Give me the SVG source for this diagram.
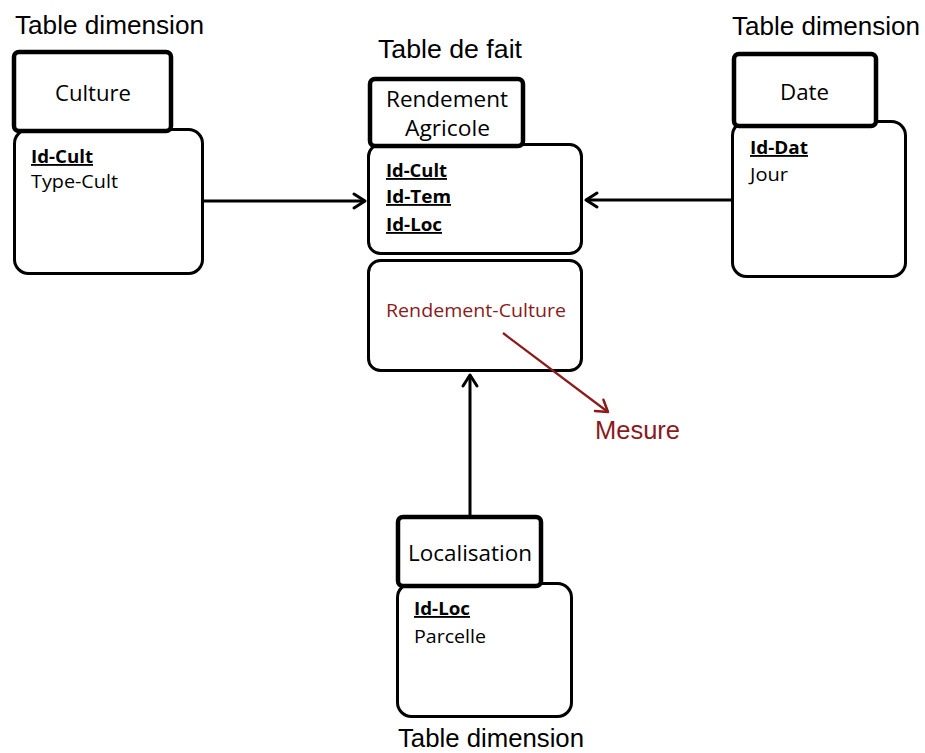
<svg xmlns="http://www.w3.org/2000/svg" width="925" height="753" viewBox="0 0 925 753">
<style>
.hdr{fill:#fff;stroke:#000;stroke-width:4.5}
.body{fill:#fff;stroke:#000;stroke-width:3}
.cap{font-family:"Liberation Sans",Arial,sans-serif;font-size:26px;fill:#000}
.tt{font-family:"Open Sans","Noto Sans",sans-serif;font-size:22.5px;fill:#000}
.t2{font-size:21px}
.at{font-family:"Open Sans","Noto Sans",sans-serif;font-size:18.5px;fill:#000}
.key{font-weight:bold;text-decoration:underline}
.red{fill:#8c1a1a}
.conn{stroke:#000;stroke-width:3;fill:none}
</style>
<defs>
<marker id="ah" markerUnits="userSpaceOnUse" markerWidth="30" markerHeight="30" refX="0" refY="0" orient="auto" overflow="visible">
<path d="M-11,-7 L0,0 L-11,7" fill="none" stroke="#000" stroke-width="3" stroke-linejoin="round" stroke-linecap="round"/>
</marker>
<marker id="ahr" markerUnits="userSpaceOnUse" markerWidth="30" markerHeight="30" refX="0" refY="0" orient="auto" overflow="visible">
<path d="M-11,-7 L0,0 L-11,7" fill="none" stroke="#8c1a1a" stroke-width="2.5" stroke-linejoin="round" stroke-linecap="round"/>
</marker>
</defs>

<g id="culture">
<text class="cap" x="15" y="34" textLength="189" lengthAdjust="spacingAndGlyphs">Table dimension</text>
<rect class="body" x="14.5" y="129.5" width="188" height="144" rx="14"/>
<rect class="hdr" x="14" y="52" width="157" height="79" rx="5"/>
<text class="tt" x="55" y="101" textLength="76" lengthAdjust="spacingAndGlyphs">Culture</text>
<text class="at key" x="31" y="163" textLength="62" lengthAdjust="spacingAndGlyphs">Id-Cult</text>
<text class="at" x="31" y="188" textLength="87" lengthAdjust="spacingAndGlyphs">Type-Cult</text>
</g>

<g id="fait">
<text class="cap" x="378" y="58" textLength="144" lengthAdjust="spacingAndGlyphs">Table de fait</text>
<rect class="body" x="368.5" y="144.5" width="213" height="109" rx="12"/>
<rect class="hdr" x="370" y="79" width="153" height="67" rx="5"/>
<text class="tt t2" x="386" y="107" textLength="122" lengthAdjust="spacingAndGlyphs">Rendement</text>
<text class="tt t2" x="405" y="136" textLength="85" lengthAdjust="spacingAndGlyphs">Agricole</text>
<text class="at key" x="386" y="177" textLength="61" lengthAdjust="spacingAndGlyphs">Id-Cult</text>
<text class="at key" x="386" y="203" textLength="65" lengthAdjust="spacingAndGlyphs">Id-Tem</text>
<text class="at key" x="386" y="231" textLength="56" lengthAdjust="spacingAndGlyphs">Id-Loc</text>
</g>

<g id="mesure">
<rect class="body" x="368.5" y="260.5" width="213" height="110" rx="12"/>
<text class="at red" x="386" y="317" textLength="180" lengthAdjust="spacingAndGlyphs">Rendement-Culture</text>
<text class="cap red" x="595" y="439" textLength="85" lengthAdjust="spacingAndGlyphs">Mesure</text>
</g>

<g id="date">
<text class="cap" x="732" y="35" textLength="188" lengthAdjust="spacingAndGlyphs">Table dimension</text>
<rect class="body" x="732.5" y="121.5" width="173" height="155" rx="14"/>
<rect class="hdr" x="734" y="54" width="142" height="72" rx="5"/>
<text class="tt" x="780" y="100" textLength="49" lengthAdjust="spacingAndGlyphs">Date</text>
<text class="at key" x="750" y="154" textLength="58" lengthAdjust="spacingAndGlyphs">Id-Dat</text>
<text class="at" x="750" y="181" textLength="38" lengthAdjust="spacingAndGlyphs">Jour</text>
</g>

<g id="localisation">
<rect class="body" x="397.5" y="583.5" width="174" height="133" rx="14"/>
<rect class="hdr" x="398" y="517" width="143" height="69" rx="5"/>
<text class="tt" x="408" y="561" textLength="124" lengthAdjust="spacingAndGlyphs">Localisation</text>
<text class="at key" x="414" y="615" textLength="56" lengthAdjust="spacingAndGlyphs">Id-Loc</text>
<text class="at" x="414" y="643" textLength="72" lengthAdjust="spacingAndGlyphs">Parcelle</text>
<text class="cap" x="398" y="747" textLength="186" lengthAdjust="spacingAndGlyphs">Table dimension</text>
</g>

<g id="connectors">
<line class="conn" x1="204" y1="201" x2="365" y2="201" marker-end="url(#ah)"/>
<line class="conn" x1="731" y1="200" x2="586" y2="200" marker-end="url(#ah)"/>
<line class="conn" x1="470" y1="516" x2="470" y2="375" marker-end="url(#ah)"/>
<line x1="503" y1="333" x2="608" y2="412" stroke="#8c1a1a" stroke-width="2.2" marker-end="url(#ahr)"/>
</g>
</svg>
